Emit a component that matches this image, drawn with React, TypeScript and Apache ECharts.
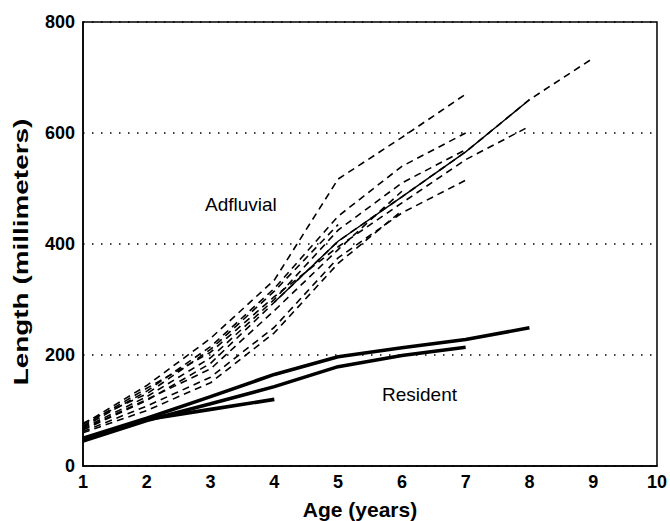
import React, { useEffect, useRef } from "react";
import * as echarts from "echarts";

const ages = [1, 2, 3, 4, 5, 6, 7, 8, 9];
const xTicks = [1, 2, 3, 4, 5, 6, 7, 8, 9, 10];
const yTicks = [0, 200, 400, 600, 800];
const xTitle = "Age (years)";
const yTitle = "Length (millimeters)";

// Adfluvial fish (dashed)
const adf1 = [75, 145, 230, 335, 517, 592, 670];
const adf2 = [70, 135, 215, 320, 450, 540, 600];
const adf3 = [68, 125, 195, 300, 425, 510, 570];
const adf4 = [65, 118, 185, 295, 405, 485, 566, 660, 735];
const adf5 = [72, 140, 205, 305, 395, 474, 552, 612];
const adf6 = [62, 108, 160, 250, 375, 456, 515];
const adf7 = [66, 120, 175, 280, 390, 495];
const adf8 = [60, 100, 150, 240, 365, 460];
const adf9 = [77, 130, 210, 315, 435];
// thin solid stretch of adf4 (ages 4-8)
const adf4SolidFrom = 4;
const adf4SolidTo = 8;

// Resident fish (thick solid)
const res1 = [50, 86, 125, 165, 197, 213, 228, 249];
const res2 = [45, 82, 112, 143, 179, 199, 214];
const res3 = [48, 84, 102, 120];

const adfluvial = [adf1, adf2, adf3, adf4, adf5, adf6, adf7, adf8, adf9];
const resident = [res1, res2, res3];

const toPairs = (vals: number[]) => vals.map((v, i) => [ages[i], v]);

export default function App() {
  const ref = useRef<HTMLDivElement>(null);
  useEffect(() => {
    document.body.style.margin = "0";
    document.body.style.overflow = "hidden";
    if (!ref.current) return;
    const chart = echarts.init(ref.current, undefined, { renderer: "svg" });
    const series: any[] = [];
    adfluvial.forEach((vals, i) => {
      series.push({
        type: "line",
        name: "Adfluvial " + (i + 1),
        data: toPairs(vals),
        showSymbol: false,
        lineStyle: { color: "#000", width: 1.6, type: [7, 5] },
        z: 3,
      });
    });
    series.push({
      type: "line",
      name: "Adfluvial 4 solid",
      data: toPairs(adf4).filter((p) => p[0] >= adf4SolidFrom && p[0] <= adf4SolidTo),
      showSymbol: false,
      lineStyle: { color: "#000", width: 1.4, type: "solid" },
      z: 3,
    });
    resident.forEach((vals, i) => {
      series.push({
        type: "line",
        name: "Resident " + (i + 1),
        data: toPairs(vals),
        showSymbol: false,
        lineStyle: { color: "#000", width: 3.6, type: "solid" },
        z: 4,
      });
    });

    const fontFamily = "'Liberation Sans', Arial, Helvetica, sans-serif";
    chart.setOption({
      animation: false,
      backgroundColor: "#fff",
      grid: {
        left: 83,
        right: 13,
        top: 22,
        bottom: 55,
        show: true,
        borderColor: "#000",
        borderWidth: 1.5,
        backgroundColor: "transparent",
      },
      xAxis: {
        type: "value",
        min: 1,
        max: 10,
        interval: 1,
        axisLine: { show: true, lineStyle: { color: "#000", width: 1.5 } },
        axisTick: { show: false },
        splitLine: { show: false },
        axisLabel: {
          customValues: xTicks,
          fontFamily,
          fontWeight: "bold",
          fontSize: 18,
          color: "#000",
          margin: 7,
        },
      },
      yAxis: {
        type: "value",
        min: 0,
        max: 800,
        interval: 200,
        axisLine: { show: true, lineStyle: { color: "#000", width: 1.5 } },
        axisTick: { show: false },
        splitLine: {
          show: true,
          lineStyle: { color: "#000", width: 1.5, type: [1.5, 7.5] },
        },
        axisLabel: {
          customValues: yTicks,
          fontFamily,
          fontWeight: "bold",
          fontSize: 18,
          color: "#000",
          margin: 8,
        },
      },
      graphic: [
        {
          type: "text",
          x: 360,
          y: 509,
          style: {
            text: xTitle,
            font: "bold 21px " + fontFamily,
            fill: "#000",
            align: "center",
            verticalAlign: "middle",
          },
        },
        {
          type: "text",
          x: 21,
          y: 252,
          rotation: Math.PI / 2,
          scaleX: 1.33,
          style: {
            text: yTitle,
            font: "bold 21px " + fontFamily,
            fill: "#000",
            align: "center",
            verticalAlign: "middle",
          },
        },
        {
          type: "text",
          left: 205,
          top: 195,
          style: { text: "Adfluvial", font: "19px " + fontFamily, fill: "#000" },
        },
        {
          type: "text",
          left: 382,
          top: 385,
          style: { text: "Resident", font: "19px " + fontFamily, fill: "#000" },
        },
      ],
      series,
    });
    return () => chart.dispose();
  }, []);
  return <div ref={ref} style={{ width: 670, height: 521 }} />;
}
